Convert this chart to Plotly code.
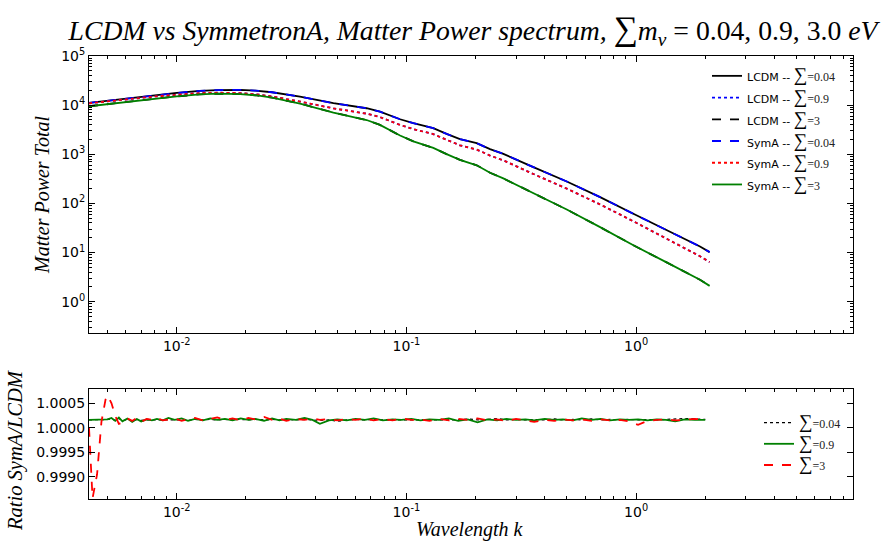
import plotly.graph_objects as go

# ---------------- data ----------------
k_pk = [0.00415, 0.005, 0.006, 0.007, 0.008, 0.010, 0.0126, 0.015, 0.0189, 0.022, 0.026,
        0.0344, 0.0481, 0.0671, 0.0767, 0.0938, 0.1072, 0.1309, 0.1496, 0.171, 0.2023,
        0.2312, 0.2642, 0.302, 0.357, 0.499, 0.697, 0.973, 1.358, 1.897, 2.09]

pk_004 = [11100, 12300, 13600, 14800, 15900, 17700, 19500, 20300, 20400, 19800, 18300,
          14890, 10940, 8650, 7380, 5160, 4290, 3390, 2600, 2030, 1680,
          1270, 1020, 769, 547, 279, 134, 61.5, 29.0, 13.3, 10.2]

pk_09 = [10900, 12000, 13100, 14100, 15000, 16300, 17600, 17900, 17600, 16700, 15000,
         11830, 8590, 6720, 5710, 3960, 3260, 2570, 1960, 1520, 1250,
         941, 753, 564, 397, 200, 95.3, 43.3, 19.4, 8.4, 6.4]

pk_3 = [9500, 10510, 11630, 12640, 13530, 15070, 16510, 17090, 16770, 15910, 14210,
        10780, 7060, 4980, 3960, 2410, 1830, 1350, 1010, 772, 596,
        421, 323, 237, 161, 75.0, 32.9, 14.1, 6.3, 2.8, 2.1]

k_ratio = [0.00415, 0.0043, 0.0045, 0.0047, 0.0049, 0.0050, 0.0052, 0.0054, 0.0056, 0.0058,
           0.0061, 0.0064, 0.0067, 0.0070, 0.0074, 0.0078, 0.0082, 0.0087, 0.0092, 0.0098,
           0.0105, 0.0112, 0.0120, 0.0130, 0.0140, 0.0150, 0.0162, 0.0175, 0.019, 0.0205,
           0.022, 0.024, 0.026, 0.028, 0.030, 0.033, 0.036, 0.039, 0.042, 0.046,
           0.050, 0.055, 0.060, 0.066, 0.072, 0.079, 0.087, 0.095, 0.105, 0.115,
           0.126, 0.139, 0.153, 0.168, 0.185, 0.204, 0.225, 0.248, 0.273, 0.30,
           0.33, 0.36, 0.40, 0.44, 0.48, 0.53, 0.58, 0.64, 0.70, 0.77,
           0.85, 0.93, 1.02, 1.12, 1.23, 1.35, 1.48, 1.63, 1.80, 2.00]

ratio_004 = [1.00016, 1.00016, 1.00016, 1.00016, 1.00016, 1.00017, 1.00018, 1.00015, 1.00019, 1.00014,
             1.00017, 1.00014, 1.00017, 1.00015, 1.00016, 1.00016, 1.00017, 1.00016, 1.00017, 1.00016,
             1.00016, 1.00015, 1.00017, 1.00016, 1.00017, 1.00016, 1.00017, 1.00016, 1.00017, 1.00016,
             1.00017, 1.00016, 1.00017, 1.00016, 1.00017, 1.00016, 1.00017, 1.00016, 1.00015, 1.00016,
             1.00013, 1.00016, 1.00017, 1.00016, 1.00017, 1.00016, 1.00016, 1.00017, 1.00016, 1.00016,
             1.00017, 1.00016, 1.00017, 1.00016, 1.00018, 1.00016, 1.00017, 1.00019, 1.00016, 1.00017,
             1.00016, 1.00017, 1.00016, 1.00018, 1.00016, 1.00017, 1.00016, 1.00018, 1.00016, 1.00017,
             1.00016, 1.00017, 1.00016, 1.00017, 1.00016, 1.00017, 1.00018, 1.00019, 1.00018, 1.00017]

ratio_09 = [1.00016, 1.00016, 1.00016, 1.00016, 1.00016, 1.00017, 1.00020, 1.00014, 1.00021, 1.00013,
            1.00019, 1.00012, 1.00018, 1.00013, 1.00017, 1.00015, 1.00018, 1.00015, 1.00020, 1.00016,
            1.00019, 1.00014, 1.00018, 1.00015, 1.00019, 1.00016, 1.00018, 1.00015, 1.00019, 1.00016,
            1.00018, 1.00014, 1.00019, 1.00015, 1.00018, 1.00016, 1.00020, 1.00016, 1.00008, 1.00015,
            1.00017, 1.00015, 1.00018, 1.00016, 1.00019, 1.00015, 1.00017, 1.00016, 1.00018, 1.00015,
            1.00017, 1.00016, 1.00019, 1.00014, 1.00017, 1.00011, 1.00017, 1.00015, 1.00018, 1.00016,
            1.00017, 1.00015, 1.00018, 1.00016, 1.00017, 1.00015, 1.00019, 1.00016, 1.00018, 1.00015,
            1.00017, 1.00016, 1.00017, 1.00015, 1.00017, 1.00016, 1.00013, 1.00017, 1.00016, 1.00016]

ratio_3 = [1.00000, 0.99856, 0.99905, 1.00012, 1.00058, 1.00066, 1.00050, 1.00024, 1.00008, 1.00010,
           1.00019, 1.00014, 1.00020, 1.00012, 1.00018, 1.00016, 1.00020, 1.00015, 1.00017, 1.00019,
           1.00014, 1.00018, 1.00020, 1.00015, 1.00018, 1.00021, 1.00016, 1.00019, 1.00015, 1.00020,
           1.00017, 1.00022, 1.00016, 1.00019, 1.00014, 1.00018, 1.00016, 1.00019, 1.00016, 1.00018,
           1.00015, 1.00018, 1.00016, 1.00019, 1.00015, 1.00018, 1.00015, 1.00019, 1.00016, 1.00017,
           1.00014, 1.00018, 1.00015, 1.00018, 1.00016, 1.00019, 1.00015, 1.00017, 1.00014, 1.00018,
           1.00015, 1.00012, 1.00016, 1.00014, 1.00017, 1.00015, 1.00017, 1.00014, 1.00017, 1.00015,
           1.00016, 1.00013, 1.00006, 1.00014, 1.00016, 1.00017, 1.00015, 1.00017, 1.00018, 1.00017]

x_tickvals = [0.01, 0.1, 1]
x_ticktext = ["10<sup>-2</sup>", "10<sup>-1</sup>", "10<sup>0</sup>"]
y_tickvals = [1, 10, 100, 1000, 10000, 100000]
y_ticktext = ["10<sup>0</sup>", "10<sup>1</sup>", "10<sup>2</sup>",
              "10<sup>3</sup>", "10<sup>4</sup>", "10<sup>5</sup>"]
r_tickvals = [0.999, 0.9995, 1.0, 1.0005]
r_ticktext = ["0.9990", "0.9995", "1.0000", "1.0005"]

SERIF = "Liberation Serif"
SANS = "DejaVu Sans"


def lbl(prefix, val):
    pre = f"<span style='font-size:11px'>{prefix}</span>" if prefix else ""
    return (f"{pre}<span style='font-family:Liberation Serif;font-size:19px'>∑</span>"
            f"<span style='font-family:{SERIF};font-size:12px;color:#222'>={val}</span>")


fig = go.Figure()

top = [
    ("LCDM -- ", "0.04", pk_004, "black", "solid"),
    ("LCDM -- ", "0.9", pk_09, "blue", "dot"),
    ("LCDM -- ", "3", pk_3, "black", "dash"),
    ("SymA -- ", "0.04", pk_004, "blue", "dash"),
    ("SymA -- ", "0.9", pk_09, "red", "dot"),
    ("SymA -- ", "3", pk_3, "green", "solid"),
]
for pre, v, ys, c, d in top:
    fig.add_trace(go.Scatter(x=k_pk, y=ys, mode="lines", name=lbl(pre, v),
                             line=dict(color=c, dash=d, width=1.8),
                             xaxis="x", yaxis="y", legend="legend"))

bottom = [
    ("0.04", ratio_004, "black", "dot", 1.2),
    ("0.9", ratio_09, "green", "solid", 1.8),
    ("3", ratio_3, "red", "dash", 1.8),
]
for v, ys, c, d, w in bottom:
    fig.add_trace(go.Scatter(x=k_ratio, y=ys, mode="lines", name=lbl("", v),
                             line=dict(color=c, dash=d, width=w),
                             xaxis="x2", yaxis="y2", legend="legend2"))

W, H = 881, 541
xl, xr = 89, 852.7
xdom = [xl / W, xr / W]
ax_common = dict(showline=True, linecolor="black", linewidth=1, mirror="allticks",
                 ticks="inside", ticklen=6, tickcolor="black", showgrid=False,
                 zeroline=False, automargin=False,
                 tickfont=dict(family=SANS, size=14, color="black"))
minor_log = dict(ticks="inside", ticklen=3, tickcolor="black", dtick="D1", showgrid=False)
logx = dict(type="log", range=[-2.382, 0.943], tickvals=x_tickvals, ticktext=x_ticktext,
            minor=minor_log)

fig.update_layout(
    width=W, height=H,
    margin=dict(l=0, r=0, t=0, b=0, autoexpand=False),
    paper_bgcolor="white", plot_bgcolor="white",
    showlegend=True,
    xaxis=dict(domain=xdom, anchor="y", **logx, **ax_common),
    yaxis=dict(domain=[1 - 333.3 / H, 1 - 56 / H], anchor="x", type="log",
               range=[-0.643, 5], tickvals=y_tickvals, ticktext=y_ticktext,
               minor=minor_log, **ax_common),
    xaxis2=dict(domain=xdom, anchor="y2", **logx, **ax_common),
    yaxis2=dict(domain=[1 - 499.3 / H, 1 - 389.3 / H], anchor="x2",
                range=[0.998538, 1.000786],
                tickvals=r_tickvals, ticktext=r_ticktext, **ax_common),
    legend=dict(x=707 / W, y=1 - 60 / H, xanchor="left", yanchor="top",
                bgcolor="rgba(0,0,0,0)", borderwidth=0,
                font=dict(family=SANS, size=14.4, color="black"), tracegroupgap=0),
    legend2=dict(x=759 / W, y=1 - 407 / H, xanchor="left", yanchor="top",
                 bgcolor="rgba(0,0,0,0)", borderwidth=0,
                 font=dict(family=SANS, size=14, color="black"), tracegroupgap=0),
    title=dict(
        text=("<i>LCDM vs SymmetronA, Matter Power spectrum, </i>"
              "<span style='font-size:34px'>∑</span><i>m</i><sub><i>ν</i></sub>"
              " = 0.04, 0.9, 3.0 <i>eV</i>"),
        x=473 / W, xanchor="center", xref="paper",
        y=1 - 30 / H, yanchor="middle", yref="container",
        font=dict(family=SERIF, size=27.7, color="black")),
)

fig.add_annotation(text="<i>Matter Power Total</i>", textangle=-90,
                   x=42 / W, y=1 - 195 / H, xref="paper", yref="paper",
                   xanchor="center", yanchor="middle",
                   showarrow=False, font=dict(family=SERIF, size=20, color="black"))
fig.add_annotation(text="<i>Ratio SymA/LCDM</i>", textangle=-90,
                   x=15 / W, y=1 - 450 / H, xref="paper", yref="paper",
                   xanchor="center", yanchor="middle",
                   showarrow=False, font=dict(family=SERIF, size=20.5, color="black"))
fig.add_annotation(text="<i>Wavelength k</i>",
                   x=470 / W, y=1 - 529 / H, xref="paper", yref="paper",
                   xanchor="center", yanchor="middle",
                   showarrow=False, font=dict(family=SERIF, size=20, color="black"))

fig.write_html("out.html")
